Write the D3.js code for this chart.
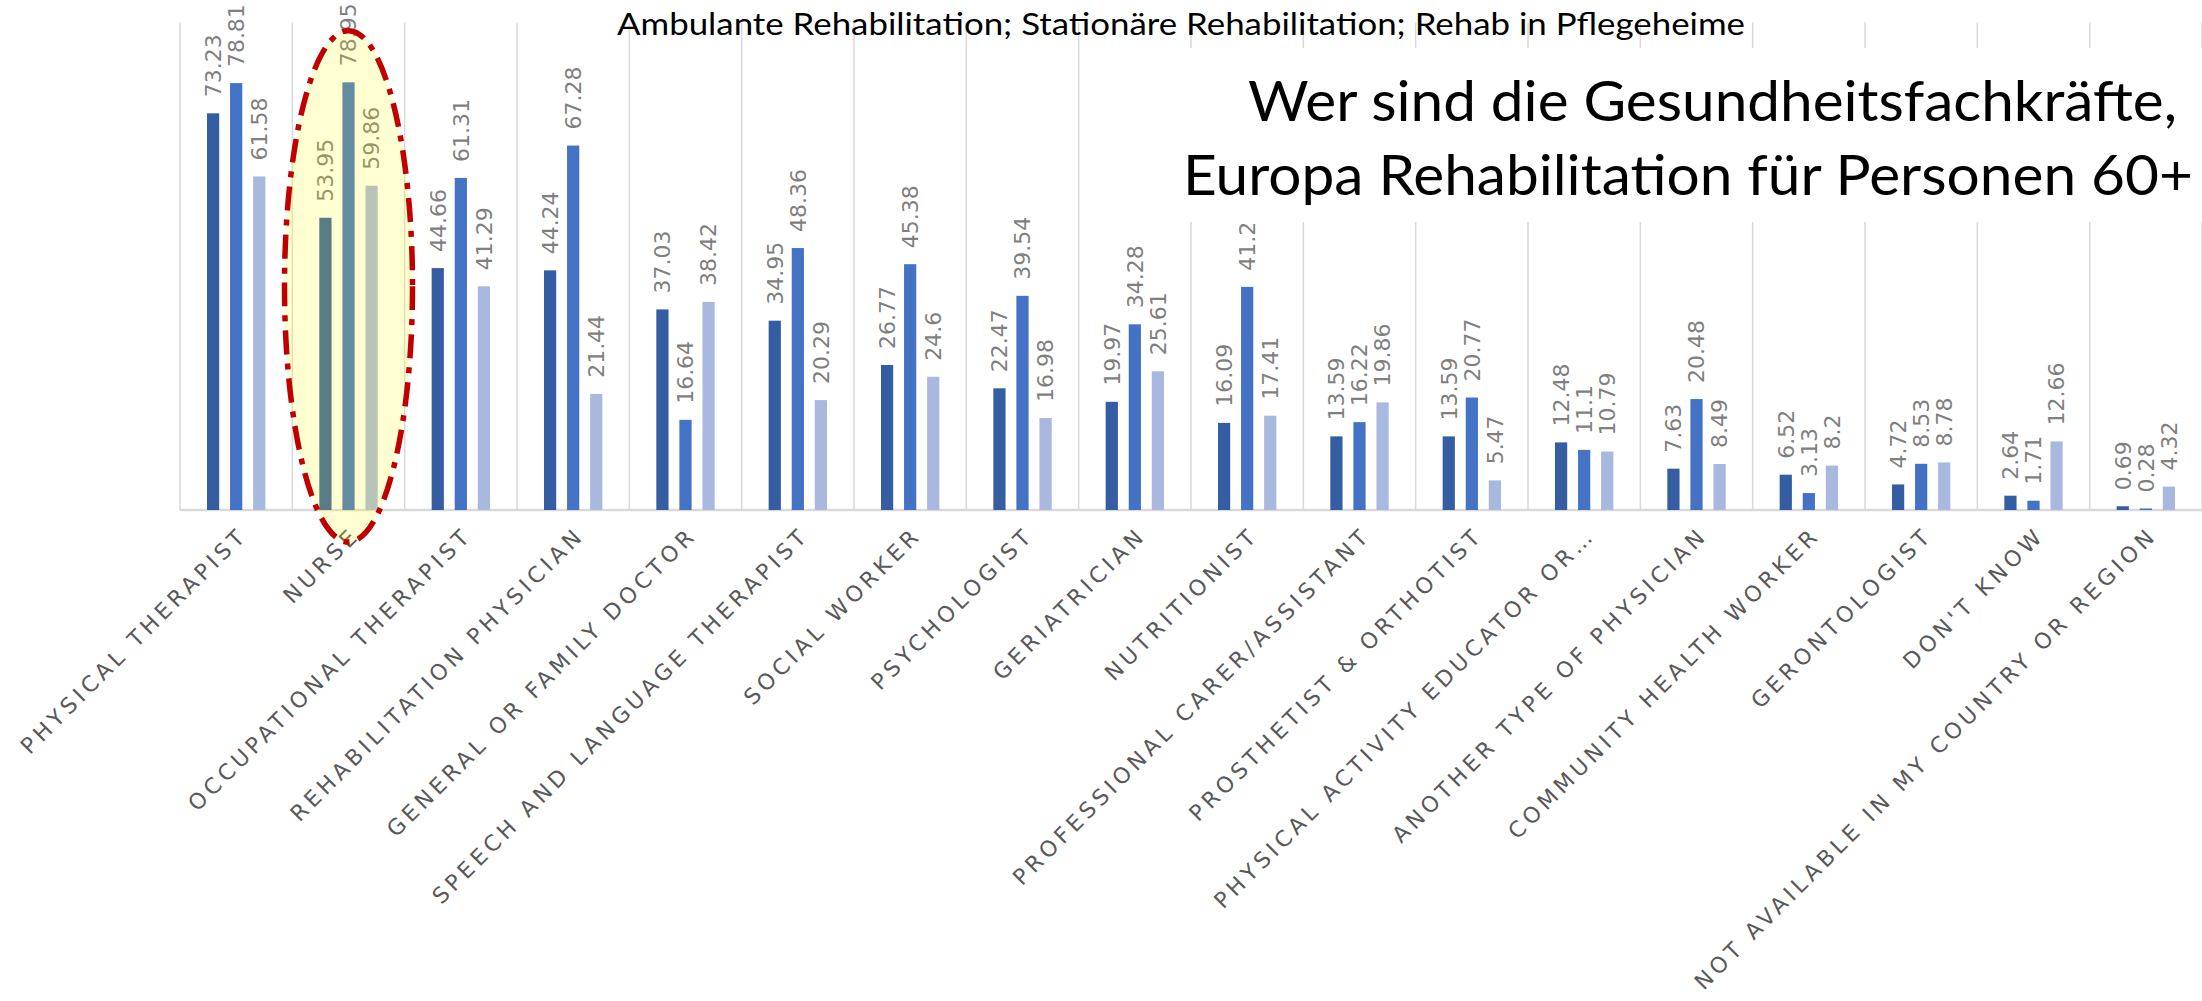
<!DOCTYPE html>
<html>
<head>
<meta charset="utf-8">
<script src="https://cdn.jsdelivr.net/npm/d3@7"></script>
<style>
  body { margin: 0; background: #fff; }
  svg { display: block; }
</style>
</head>
<body>
<div id="chart-container"><svg></svg></div>
<script>
// data
const categories = [
  'PHYSICAL THERAPIST', 'NURSE', 'OCCUPATIONAL THERAPIST', 'REHABILITATION PHYSICIAN',
  'GENERAL OR FAMILY DOCTOR', 'SPEECH AND LANGUAGE THERAPIST', 'SOCIAL WORKER',
  'PSYCHOLOGIST', 'GERIATRICIAN', 'NUTRITIONIST', 'PROFESSIONAL CARER/ASSISTANT',
  'PROSTHETIST & ORTHOTIST', 'PHYSICAL ACTIVITY EDUCATOR OR…', 'ANOTHER TYPE OF PHYSICIAN',
  'COMMUNITY HEALTH WORKER', 'GERONTOLOGIST', "DON'T KNOW", 'NOT AVAILABLE IN MY COUNTRY OR REGION',
];
const series = ['Ambulante Rehabilitation', 'Stationäre Rehabilitation', 'Rehab in Pflegeheime'];
const ambulant = [73.23, 53.95, 44.66, 44.24, 37.03, 34.95, 26.77, 22.47, 19.97, 16.09, 13.59, 13.59, 12.48, 7.63, 6.52, 4.72, 2.64, 0.69];
const stationaer = [78.81, 78.95, 61.31, 67.28, 16.64, 48.36, 45.38, 39.54, 34.28, 41.2, 16.22, 20.77, 11.1, 20.48, 3.13, 8.53, 1.71, 0.28];
const pflegeheim = [61.58, 59.86, 41.29, 21.44, 38.42, 20.29, 24.6, 16.98, 25.61, 17.41, 19.86, 5.47, 10.79, 8.49, 8.2, 8.78, 12.66, 4.32];
const highlighted = 'NURSE';
const chartTitle = series.join('; ');
const bigTitle = ['Wer sind die Gesundheitsfachkräfte,', 'Europa Rehabilitation für Personen 60+'];

const colors = ['#355ea2', '#4472c4', '#a9b8de'];

const W = 2202;
const H = 1001;
const plot = { left: 180, right: 2202, top: 22.5, bottom: 510 };

const svg = d3.select('#chart-container>svg').attr('width', W).attr('height', H);

const rows = categories.map((c, i) => ({
  cat: c,
  values: [ambulant[i], stationaer[i], pflegeheim[i]],
}));

const x = d3.scaleBand().domain(categories).range([plot.left, plot.right]);
const bw = x.bandwidth();
const x1 = d3.scaleBand().domain(series).range([0, bw])
  .paddingInner(0.47).paddingOuter(1.17);
const y = d3.scaleLinear().domain([0, 90]).range([plot.bottom, plot.top]);

// vertical gridlines between categories
const bounds = categories.map(c => x(c)).concat([x(categories[categories.length - 1]) + bw]);
svg.append('g').selectAll('line')
  .data(bounds)
  .enter().append('line')
  .attr('x1', d => d).attr('x2', d => d)
  .attr('y1', y(90)).attr('y2', y(0))
  .style('stroke', '#d9d9d9')
  .style('stroke-width', 1.5);

// text box behind the big title hides the gridlines
svg.append('rect')
  .attr('x', 1165).attr('y', 48)
  .attr('width', W - 1165).attr('height', 174)
  .style('fill', '#fff');

// baseline
svg.append('line')
  .attr('x1', plot.left).attr('x2', plot.right)
  .attr('y1', y(0)).attr('y2', y(0))
  .style('stroke', '#d9d9d9')
  .style('stroke-width', 2.5);

const groups = svg.append('g').selectAll('g.cat')
  .data(rows)
  .enter().append('g')
  .attr('class', 'cat')
  .attr('transform', d => `translate(${x(d.cat)},0)`);

groups.selectAll('rect')
  .data(d => d.values.map((v, j) => ({ s: series[j], v, j })))
  .enter().append('rect')
  .attr('x', d => x1(d.s))
  .attr('width', x1.bandwidth())
  .attr('y', d => y(d.v))
  .attr('height', d => y(0) - y(d.v))
  .style('fill', d => colors[d.j]);

// value labels, rotated
groups.selectAll('text.val')
  .data(d => d.values.map((v, j) => ({ s: series[j], v, j })))
  .enter().append('text')
  .attr('class', 'val')
  .attr('transform', d => `translate(${x1(d.s) + x1.bandwidth() / 2},${y(d.v) - 16}) rotate(-90)`)
  .attr('dy', '0.36em')
  .style('font-family', 'DejaVu Sans, sans-serif')
  .style('font-size', '22px')
  .style('fill', '#7f7f7f')
  .text(d => d.v);

// category labels at -45
svg.append('g').selectAll('text.cat')
  .data(categories)
  .enter().append('text')
  .attr('class', 'cat')
  .attr('transform', d => `translate(${x(d) + bw / 2 + 7},531) rotate(-45)`)
  .attr('text-anchor', 'end')
  .attr('dy', '0.35em')
  .style('font-family', 'DejaVu Sans, sans-serif')
  .style('font-size', '22px')
  .style('letter-spacing', '4.2px')
  .style('fill', '#595959')
  .text(d => d);

// highlight ellipse round the nurse group
const ellTop = y(88.5);
const ellBot = y(0) + 32;
svg.append('ellipse')
  .attr('cx', x(highlighted) + bw / 2)
  .attr('cy', (ellTop + ellBot) / 2)
  .attr('rx', 64)
  .attr('ry', (ellBot - ellTop) / 2)
  .style('fill', '#ffff00')
  .style('fill-opacity', 0.18)
  .style('stroke', '#c00000')
  .style('stroke-width', 5.5)
  .style('stroke-dasharray', '24,9,6,9');

// chart title
svg.append('text')
  .attr('x', 1181).attr('y', 35)
  .attr('text-anchor', 'middle')
  .attr('textLength', 1128)
  .attr('lengthAdjust', 'spacingAndGlyphs')
  .style('font-family', 'Lato, sans-serif')
  .style('font-size', '30px')
  .style('fill', '#000')
  .text(chartTitle);

// big title, right block
const bigPos = [{ x: 1248, y: 121, len: 929 }, { x: 1183, y: 195, len: 1010 }];
svg.append('g').selectAll('text')
  .data(bigTitle)
  .enter().append('text')
  .attr('x', (d, i) => bigPos[i].x)
  .attr('y', (d, i) => bigPos[i].y)
  .attr('textLength', (d, i) => bigPos[i].len)
  .attr('lengthAdjust', 'spacingAndGlyphs')
  .style('font-family', 'Lato, sans-serif')
  .style('font-size', '57px')
  .style('fill', '#000')
  .text(d => d);
</script>
</body>
</html>
